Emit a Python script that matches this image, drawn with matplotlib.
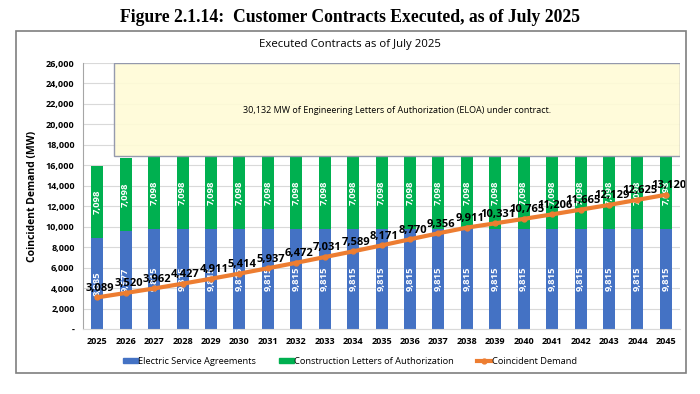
import numpy as np
import matplotlib
matplotlib.use('Agg')
from matplotlib import pyplot as plt
from matplotlib.patches import Rectangle
from matplotlib.lines import Line2D
from matplotlib.ticker import FuncFormatter

plt.rcParams['font.family'] = ['Open Sans', 'DejaVu Sans']

years = [str(y) for y in range(2025, 2046)]
esa = [8885, 9577] + [9815] * 19
clo = [7098] * 21
demand = [3089, 3520, 3962, 4427, 4911, 5414, 5937, 6472, 7031, 7589, 8171,
          8770, 9356, 9911, 10331, 10765, 11206, 11665, 12129, 12625, 13120]
eloa_note = '30,132 MW of Engineering Letters of Authorization (ELOA) under contract.'

blue = '#4472C4'
green = '#00B050'
orange = '#ED7D31'

fig = plt.figure(figsize=(7, 3.94), dpi=100)
ax = fig.add_axes([0.1186, 0.165, 0.853, 0.675])
x = np.arange(len(years))

ax.bar(x, esa, width=0.42, color=blue, zorder=2)
ax.bar(x, clo, width=0.42, bottom=esa, color=green, zorder=2)

for i in range(len(years)):
    ax.text(i, esa[i] / 2, f'{esa[i]:,}', rotation=90, ha='center', va='center',
            color='white', fontsize=6.8, fontweight='bold', zorder=3)
    ax.text(i, esa[i] + clo[i] / 2, f'{clo[i]:,}', rotation=90, ha='center', va='center',
            color='white', fontsize=6.8, fontweight='bold', zorder=3)

# yellow note box
ax.add_patch(Rectangle((0.6, 16913), 19.9, 26000 - 16913, facecolor='#FFFBD6',
                       edgecolor='#8A8FA8', linewidth=1, alpha=0.9, zorder=4))
ax.text(10.55, 21400, eloa_note, ha='center', va='center', fontsize=6.5, zorder=5)

ax.plot(x, demand, color=orange, linewidth=3, marker='o', markersize=3.5, zorder=6)
for i, d in enumerate(demand):
    ax.text(i + 0.1, d + 900, f'{d:,}', ha='center', va='center', fontsize=8,
            fontweight='bold', color='black', zorder=7)

ax.set_xlim(-0.5, 20.5)
ax.set_ylim(0, 26000)
ax.set_yticks(np.arange(0, 26001, 2000))
ax.yaxis.set_major_formatter(FuncFormatter(lambda v, p: '-' if v == 0 else f'{int(v):,}'))
ax.set_xticks(x)
ax.set_xticklabels(years)
ax.tick_params(axis='both', length=0, labelsize=6.5, pad=6)
for lbl in ax.get_xticklabels() + ax.get_yticklabels():
    lbl.set_fontweight('bold')
ax.grid(axis='y', color='#D9D9D9', linewidth=0.8, zorder=0)
ax.set_axisbelow(True)
for s in ['top', 'right']:
    ax.spines[s].set_visible(False)
ax.spines['left'].set_color('#A6A6A6')
ax.spines['bottom'].set_color('#D9D9D9')
ax.set_ylabel('Coincident Demand (MW)', fontsize=7.5, fontweight='bold', labelpad=6)

handles = [Rectangle((0, 0), 1, 1, color=blue),
           Rectangle((0, 0), 1, 1, color=green),
           Line2D([], [], color=orange, linewidth=3, marker='o', markersize=3.5)]
fig.legend(handles, ['Electric Service Agreements', 'Construction Letters of Authorization',
                     'Coincident Demand'],
           loc='center', bbox_to_anchor=(0.5, 0.083), ncol=3, frameon=False,
           fontsize=6.7, handlelength=1.6, handleheight=0.5, columnspacing=2.4, handletextpad=0.1)

# chart frame
fig.patches.append(Rectangle((16 / 700, 1 - 373 / 394), 670 / 700, 342 / 394,
                             transform=fig.transFigure, fill=False,
                             edgecolor='#7F7F7F', linewidth=1.2))
fig.text(0.5, 1 - 44 / 394, 'Executed Contracts as of July 2025', ha='center', va='center',
         fontsize=8.2)
fig.text(0.5, 1 - 17 / 394, 'Figure 2.1.14:  Customer Contracts Executed, as of July 2025',
         ha='center', va='center', fontsize=12.7, fontweight='bold',
         family=['Liberation Serif', 'DejaVu Serif'])

fig.savefig('out.png', dpi=100)
